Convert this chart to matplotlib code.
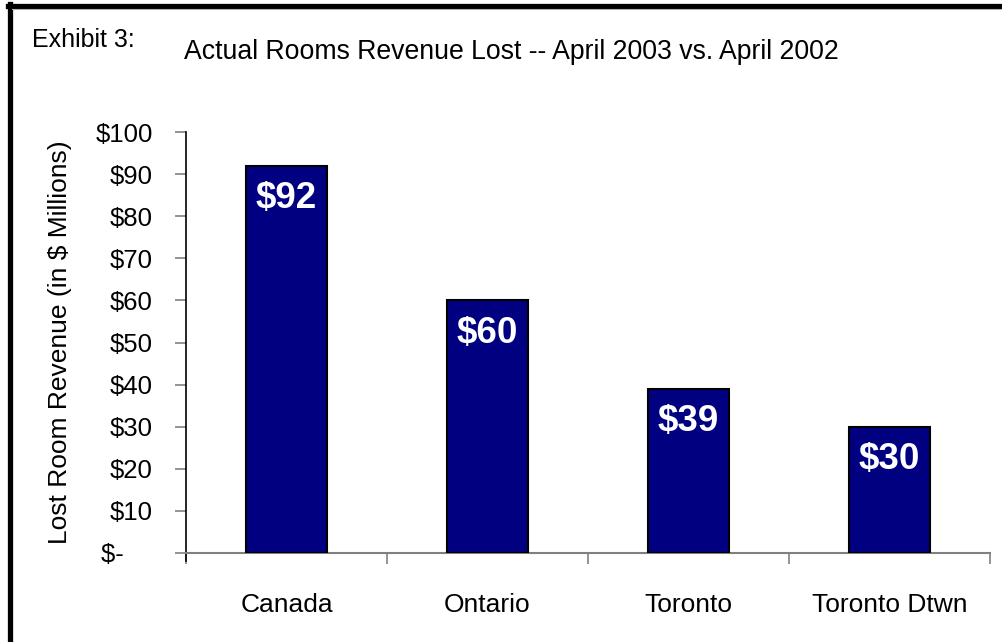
import matplotlib
matplotlib.use("Agg")
import matplotlib.pyplot as plt
from matplotlib.lines import Line2D

# --- dados
categorias = ["Canada", "Ontario", "Toronto", "Toronto Dtwn"]
perda = [92, 60, 39, 30]
y_ticks = [0, 10, 20, 30, 40, 50, 60, 70, 80, 90, 100]
y_tick_lbl = ["$-    ", "$10", "$20", "$30", "$40", "$50", "$60", "$70",
              "$80", "$90", "$100"]

plt.rcParams['font.family'] = ['Liberation Sans', 'DejaVu Sans']

fig = plt.figure(figsize=(10.02, 6.42), dpi=100)
ax = fig.add_axes([186 / 1002, 1 - 553 / 642, 804 / 1002, 421 / 642])

x = list(range(len(categorias)))
barras = ax.bar(x, perda, width=0.4, color='#000080', edgecolor='black',
                linewidth=1.5, zorder=3)

# rótulos dos valores dentro das barras
for b, v in zip(barras, perda):
    ax.annotate('$' + str(v), (b.get_x() + b.get_width() / 2, v),
                xytext=(0, -33), textcoords='offset pixels',
                ha='center', va='center', color='white',
                fontsize=26.5, fontweight='bold')

ax.set_xlim(-0.5, len(categorias) - 0.5)
ax.set_ylim(0, 100)

# eixo y
ax.set_yticks(y_ticks)
ax.set_yticklabels(y_tick_lbl, fontsize=18.5)
ax.tick_params(axis='y', length=8, width=1.2, color='#808080', pad=16)

# eixo x: rótulos no centro, traços nos limites
ax.set_xticks(x)
ax.set_xticklabels(categorias, fontsize=19)
ax.tick_params(axis='x', which='major', length=0, pad=29)
ax.set_xticks([i - 0.5 for i in range(len(categorias) + 1)], minor=True)
ax.tick_params(axis='x', which='minor', length=8, width=1.2,
               color='#808080', direction='out')

for s in ['top', 'right']:
    ax.spines[s].set_visible(False)
ax.spines['left'].set_color('black')
ax.spines['left'].set_linewidth(1.2)
ax.spines['left'].set_bounds(-2, 100)
ax.spines['bottom'].set_color('#808080')
ax.spines['bottom'].set_linewidth(1.5)
ax.spines['left'].set_clip_on(False)

# textos
fig.text(60 / 1002, 1 - 342 / 642, 'Lost Room Revenue (in $ Millions)',
         rotation=90, ha='center', va='center', fontsize=19)
fig.text(511 / 1002, 1 - 52 / 642,
         'Actual Rooms Revenue Lost -- April 2003 vs. April 2002',
         ha='center', va='center', fontsize=19.2)
fig.text(32 / 1002, 1 - 40 / 642, 'Exhibit 3:', ha='left', va='center',
         fontsize=18)

# moldura
fig.add_artist(Line2D([10 / 1002, 10 / 1002], [0, 1 - 4 / 642],
                      transform=fig.transFigure, color='black', lw=3.8))
fig.add_artist(Line2D([8 / 1002, 1], [1 - 6 / 642, 1 - 6 / 642],
                      transform=fig.transFigure, color='black', lw=3.8))
fig.add_artist(Line2D([12 / 1002, 1], [1 - 9 / 642, 1 - 9 / 642],
                      transform=fig.transFigure, color='#b0b0b0', lw=0.8))

fig.savefig('out.png', dpi=100)
